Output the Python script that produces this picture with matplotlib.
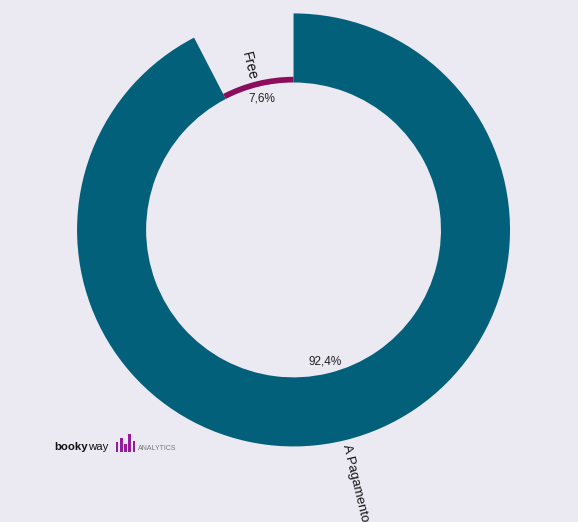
import numpy as np
import matplotlib.pyplot as plt

labels = ['A Pagamento', 'Free']
values = [92.4, 7.6]
pct_text = ['92,4%', '7,6%']
colors = ['#03607b', '#8c0d5e']
logo_bars = [0.55, 0.8, 0.45, 1.0, 0.6]

bg = '#ebeaf2'
plt.rcParams['font.family'] = ['Liberation Sans', 'DejaVu Sans']

fig = plt.figure(figsize=(5.78, 5.22), dpi=100, facecolor=bg)
ax = fig.add_axes([0, 0, 1, 1])
ax.set_facecolor(bg)

r_in = 0.681
wedges, _ = ax.pie(values, colors=colors, startangle=90, counterclock=False,
                   radius=1, wedgeprops=dict(width=1 - r_in, linewidth=0))
vmax = max(values)
for w, v in zip(wedges, values):
    r_out = r_in + (1 - r_in) * v / vmax
    w.set_radius(r_out)
    w.set_width(r_out - r_in)

ax.set_aspect('auto')
ax.set_xlim(-1.356, 1.314)
ax.set_ylim(-1.349, 1.062)
ax.axis('off')

# labels
total = sum(values)
start = 90
for w, v, lab, pt in zip(wedges, values, labels, pct_text):
    span = 360 * v / total
    mid = start - span / 2
    start -= span
    th = np.deg2rad(mid)
    r_out = w.r
    ax.text(0.625 * np.cos(th), 0.625 * np.sin(th), pt, ha='center', va='center',
            fontsize=8.5, color='#222222')
    rot = mid if -90 <= mid <= 90 else mid - 180
    if lab == 'Free':
        rl = r_out + 0.075
        tl = th + np.deg2rad(1.5)
        ax.text(rl * np.cos(tl), rl * np.sin(tl), lab, ha='center', va='center',
                rotation=rot, rotation_mode='anchor', fontsize=10, color='#111111')
    else:
        rl = r_out + 0.02
        ax.text(rl * np.cos(th), rl * np.sin(th), lab, ha='left', va='center',
                rotation=rot, rotation_mode='anchor', fontsize=9.5, color='#111111')

# logo
t1 = fig.text(54 / 578, 1 - 447 / 522, 'booky', fontsize=8.2, fontweight='bold',
              color='#111111', va='center', ha='left')
ax.annotate('way', xy=(1, 0.5), xycoords=t1, fontsize=8.2, color='#111111',
            va='center', ha='left')
lax = fig.add_axes([115 / 578, 1 - 452 / 522, 21 / 578, 18 / 522])
lax.bar(range(len(logo_bars)), logo_bars, width=0.6, color='#951c9c')
lax.set_ylim(0, 1)
lax.set_xlim(-0.5, len(logo_bars) - 0.5)
lax.axis('off')
fig.text(138 / 578, 1 - 448 / 522, 'ANALYTICS', fontsize=5, color='#777777',
         va='center', ha='left', fontstretch='condensed')

fig.savefig('out.png', dpi=100, facecolor=bg)
